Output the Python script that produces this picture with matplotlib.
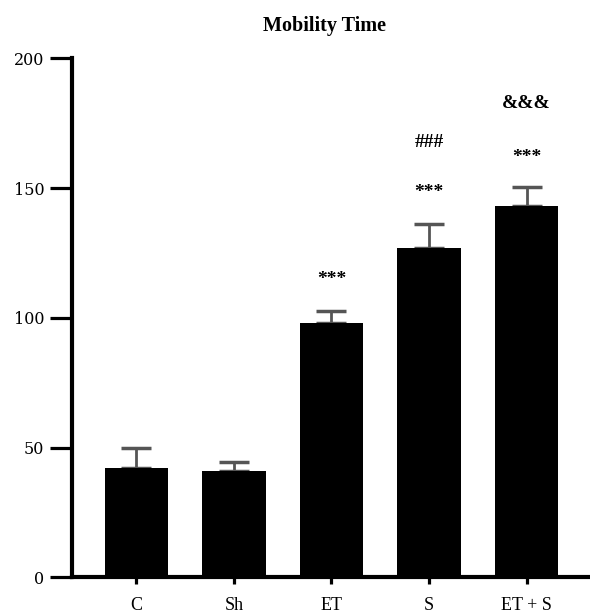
import matplotlib
matplotlib.use('Agg')
import matplotlib.pyplot as plt
import numpy as np

# values
groups = ['C', 'Sh', 'ET', 'S', 'ET + S']
means = [42, 41, 98, 127, 143]
sem = [8, 3.5, 4.7, 9, 7.5]
# significance marks: (group index, y position, text)
marks = [(2, 114.7, '***'),
         (3, 148.4, '***'),
         (3, 167.6, '###'),
         (4, 161.8, '***'),
         (4, 182.6, '&&&')]

plt.rcParams['font.family'] = ['Liberation Serif', 'DejaVu Serif']

fig = plt.figure(figsize=(5.9, 6.13), dpi=100)
ax = fig.add_axes([0.122, 0.058, 0.878, 0.847])

x = np.arange(len(groups))
ax.bar(x, means, width=0.65, color='black', zorder=2)
ax.errorbar(x, means, yerr=[np.zeros(len(sem)), sem], fmt='none',
            ecolor='#555555', elinewidth=2, capsize=11, capthick=2.5, zorder=1)

for i, y, t in marks:
    ax.text(x[i], y, t, ha='center', va='center', fontsize=14, fontweight='bold')

ax.set_xlim(-0.66, 4.65)
ax.set_ylim(0, 200)
ax.set_yticks([0, 50, 100, 150, 200])
ax.set_yticklabels(['0', '50', '100', '150', '200'], family='DejaVu Serif', fontsize=11.5)
ax.set_xticks(x)
ax.set_xticklabels(groups, fontsize=13)
ax.tick_params(axis='y', length=16, width=2.3, pad=4)
ax.tick_params(axis='x', length=5, width=2.3, pad=9)

for s in ['top', 'right']:
    ax.spines[s].set_visible(False)
ax.spines['left'].set_linewidth(3)
ax.spines['bottom'].set_linewidth(3)

fig.text(0.55, 0.958, 'Mobility Time', ha='center', va='center',
         fontsize=14.5, fontweight='bold')

fig.savefig('out.png', dpi=100)
